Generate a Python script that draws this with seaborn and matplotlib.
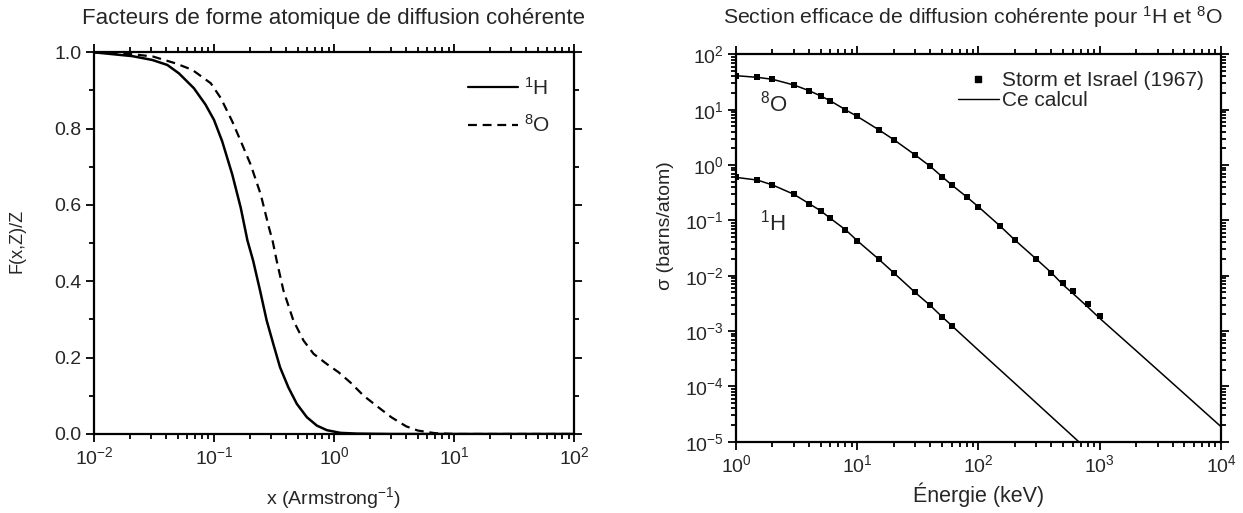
import numpy as np
import pandas as pd
import matplotlib
matplotlib.use("Agg")
import matplotlib.pyplot as plt
from matplotlib.ticker import LogLocator, MultipleLocator, NullFormatter, FormatStrFormatter
from matplotlib.lines import Line2D
import seaborn as sns

# ---- atomic form factors F(x,Z)/Z ----
x_h = [0.01, 0.0209, 0.0306, 0.0408, 0.051, 0.068, 0.085, 0.1, 0.117, 0.142, 0.167,
       0.19, 0.212, 0.242, 0.275, 0.312, 0.355, 0.417, 0.49, 0.594, 0.72, 0.873,
       1.13, 1.56, 3.0, 100.0]
f_h = [1.0, 0.990, 0.980, 0.967, 0.945, 0.906, 0.863, 0.823, 0.767, 0.680, 0.593,
       0.507, 0.454, 0.376, 0.297, 0.236, 0.175, 0.122, 0.079, 0.044, 0.022, 0.010,
       0.003, 0.001, 0.0, 0.0]

x_o = [0.01, 0.021, 0.031, 0.048, 0.066, 0.094, 0.114, 0.142, 0.172, 0.202, 0.245,
       0.287, 0.308, 0.333, 0.379, 0.459, 0.557, 0.676, 0.874, 1.09, 1.37, 1.77,
       2.3, 3.0, 4.0, 5.0, 7.0, 10.0, 100.0]
f_o = [1.0, 0.995, 0.989, 0.971, 0.954, 0.919, 0.880, 0.819, 0.758, 0.706, 0.628,
       0.541, 0.506, 0.454, 0.376, 0.297, 0.245, 0.210, 0.183, 0.162, 0.135, 0.100,
       0.072, 0.044, 0.020, 0.009, 0.002, 0.0, 0.0]

# ---- coherent cross sections (barns/atom) ----
e_tab = [1, 1.5, 2, 3, 4, 5, 6, 8, 10, 15, 20, 30, 40, 50, 60, 80, 100, 150, 200,
         300, 400, 500, 600, 800, 1000]
sig_o_tab = [41.4, 38.6, 35.6, 28.1, 22.2, 17.8, 14.5, 10.0, 7.6, 4.37, 2.89, 1.53,
             0.95, 0.62, 0.44, 0.266, 0.176, 0.080, 0.044, 0.020, 0.0113, 0.0074,
             0.0053, 0.0031, 0.00184]
e_tab_h = e_tab[:15]
sig_h_tab = [0.60, 0.537, 0.438, 0.297, 0.202, 0.149, 0.109, 0.068, 0.043, 0.020,
             0.0113, 0.0050, 0.0029, 0.00182, 0.00126]

e_calc_o = e_tab + [2000, 5000, 10000]
sig_o_calc = [41.4, 38.6, 35.6, 28.1, 22.2, 17.8, 14.5, 10.0, 7.6, 4.37, 2.89, 1.53,
              0.95, 0.62, 0.44, 0.266, 0.176, 0.080, 0.044, 0.020, 0.0113, 0.0068,
              0.0048, 0.0027, 0.0017, 4.4e-4, 7.3e-5, 1.87e-5]
e_calc_h = e_tab_h + [100, 200, 500, 1000]
sig_h_calc = [0.60, 0.537, 0.438, 0.297, 0.202, 0.149, 0.109, 0.068, 0.043, 0.020,
              0.0113, 0.0050, 0.0029, 0.00182, 0.00126, 4.5e-4, 1.13e-4, 1.8e-5, 4.5e-6]

sns.set_theme(style="ticks")
plt.rcParams["font.family"] = ["Liberation Sans", "DejaVu Sans"]
plt.rcParams["mathtext.fontset"] = "custom"
plt.rcParams["mathtext.rm"] = "Liberation Sans"
plt.rcParams["mathtext.it"] = "Liberation Sans:italic"
plt.rcParams["mathtext.bf"] = "Liberation Sans:bold"
plt.rcParams["axes.linewidth"] = 1.6
plt.rcParams["axes.edgecolor"] = "black"

fig = plt.figure(figsize=(12.43, 5.13), dpi=100)
ax1 = fig.add_axes([0.0756, 0.154, 0.3862, 0.744])
ax2 = fig.add_axes([0.5921, 0.139, 0.3902, 0.7548])


def style_ticks(ax):
    ax.tick_params(which="both", top=True, right=True, direction="out",
                   color="black", labelsize=14, width=1.3, pad=3)
    ax.tick_params(which="major", length=6)
    ax.tick_params(which="minor", length=3.5)


# ---------------- left panel ----------------
ax1.set_xscale("log")
df_h = pd.DataFrame({"x": x_h, "F": f_h})
df_o = pd.DataFrame({"x": x_o, "F": f_o})
sns.lineplot(data=df_h, x="x", y="F", ax=ax1, color="black", lw=1.8)
sns.lineplot(data=df_o, x="x", y="F", ax=ax1, color="black", lw=1.6,
             linestyle=(0, (4, 2.6)))
ax1.set_xlim(1e-2, 1e2)
ax1.set_ylim(0, 1.0)
ax1.yaxis.set_major_locator(MultipleLocator(0.2))
ax1.yaxis.set_minor_locator(MultipleLocator(0.1))
ax1.yaxis.set_major_formatter(FormatStrFormatter("%.1f"))
ax1.xaxis.set_major_locator(LogLocator(base=10, numticks=10))
ax1.xaxis.set_minor_locator(LogLocator(base=10, subs=np.arange(2, 10), numticks=20))
ax1.xaxis.set_minor_formatter(NullFormatter())
style_ticks(ax1)
ax1.set_xlabel("")
ax1.set_ylabel("")
leg_handles = [Line2D([], [], color="black", lw=1.6),
               Line2D([], [], color="black", lw=1.6, linestyle=(0, (4, 2.6)))]
ax1.legend(leg_handles, [r"$^{1}$H", r"$^{8}$O"], loc="upper right", frameon=False,
           fontsize=15, handlelength=2.4, handletextpad=0.3, labelspacing=0.75,
           bbox_to_anchor=(0.99, 0.985))

fig.text(0.268, 0.963, "Facteurs de forme atomique de diffusion cohérente",
         ha="center", va="center", fontsize=16)
fig.text(0.2687, 0.03, r"x (Armstrong$^{-1}$)", ha="center", va="center", fontsize=14)
fig.text(0.014, 0.53, "F(x,Z)/Z", ha="center", va="center", rotation=90, fontsize=13)

# ---------------- right panel ----------------
ax2.set_xscale("log")
ax2.set_yscale("log")
sns.lineplot(x=e_calc_o, y=sig_o_calc, ax=ax2, color="black", lw=1.1)
sns.lineplot(x=e_calc_h, y=sig_h_calc, ax=ax2, color="black", lw=1.1)
sns.scatterplot(x=e_tab, y=sig_o_tab, ax=ax2, color="black", marker="s", s=18,
                edgecolor="black", linewidth=0, zorder=3)
sns.scatterplot(x=e_tab_h, y=sig_h_tab, ax=ax2, color="black", marker="s", s=18,
                edgecolor="black", linewidth=0, zorder=3)
ax2.set_xlim(1, 1e4)
ax2.set_ylim(1e-5, 1e2)
ax2.xaxis.set_major_locator(LogLocator(base=10, numticks=10))
ax2.xaxis.set_minor_locator(LogLocator(base=10, subs=np.arange(2, 10), numticks=20))
ax2.yaxis.set_major_locator(LogLocator(base=10, numticks=10))
ax2.yaxis.set_minor_locator(LogLocator(base=10, subs=np.arange(2, 10), numticks=20))
ax2.xaxis.set_minor_formatter(NullFormatter())
ax2.yaxis.set_minor_formatter(NullFormatter())
style_ticks(ax2)
ax2.set_xlabel("")
ax2.set_ylabel("")
leg2 = [Line2D([], [], color="black", marker="s", markersize=4.5, linestyle="none"),
        Line2D([], [], color="black", lw=1.0)]
ax2.legend(leg2, ["Storm et Israel (1967)", "Ce calcul"], loc="upper right",
           frameon=False, fontsize=15, handlelength=2.0, handletextpad=0.15,
           labelspacing=0.05, borderpad=0.3, bbox_to_anchor=(1.0, 1.0))
ax2.text(0.05, 0.872, r"$^{8}$O", transform=ax2.transAxes, fontsize=16,
         ha="left", va="center")
ax2.text(0.05, 0.565, r"$^{1}$H", transform=ax2.transAxes, fontsize=16,
         ha="left", va="center")

fig.text(0.783, 0.966, r"Section efficace de diffusion cohérente pour $^{1}$H et $^{8}$O",
         ha="center", va="center", fontsize=15.3)
fig.text(0.787, 0.035, "Énergie (keV)", ha="center", va="center", fontsize=15.5)
fig.text(0.535, 0.56, "σ (barns/atom)", ha="center", va="center", rotation=90,
         fontsize=14)

fig.savefig("out.png", dpi=100, facecolor="white")
